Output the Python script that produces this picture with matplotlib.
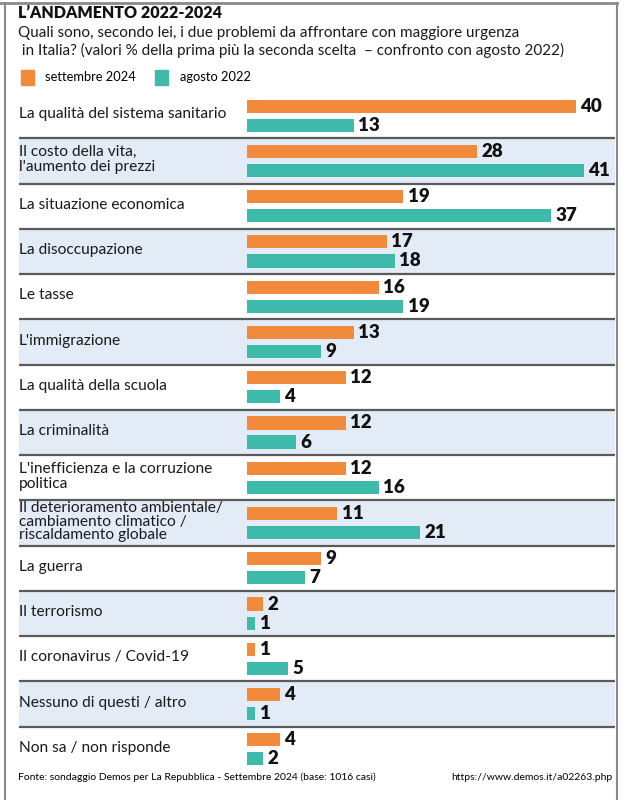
import numpy as np
import matplotlib.pyplot as plt
from matplotlib import font_manager
from matplotlib.lines import Line2D
from matplotlib.patches import Rectangle

# data
categorie = [
    "La qualità del sistema sanitario",
    "Il costo della vita,\nl'aumento dei prezzi",
    "La situazione economica",
    "La disoccupazione",
    "Le tasse",
    "L'immigrazione",
    "La qualità della scuola",
    "La criminalità",
    "L'inefficienza e la corruzione\npolitica",
    "Il deterioramento ambientale/\ncambiamento climatico /\nriscaldamento globale",
    "La guerra",
    "Il terrorismo",
    "Il coronavirus / Covid-19",
    "Nessuno di questi / altro",
    "Non sa / non risponde",
]
sett_2024 = [40, 28, 19, 17, 16, 13, 12, 12, 12, 11, 9, 2, 1, 4, 4]
ago_2022 = [13, 41, 37, 18, 19, 9, 4, 6, 16, 21, 7, 1, 5, 1, 2]

ORANGE = "#f18b3b"
TEAL = "#3dbaaa"
BAND = "#e3ecf6"
LINE = "#5a5a5a"

names = {f.name for f in font_manager.fontManager.ttflist}
BODY = "Lato" if "Lato" in names else "DejaVu Sans"
plt.rcParams["font.family"] = [BODY, "DejaVu Sans"]

W, H = 627, 800
fig = plt.figure(figsize=(W / 100, H / 100), dpi=100)

# plot area in pixels
x_left, x_right = 19, 615
y_top, y_bot = 93, 772
bar0 = 247
px_per = 8.22

ax = fig.add_axes([x_left / W, 1 - y_bot / H, (x_right - x_left) / W, (y_bot - y_top) / H])
xmin = -(bar0 - x_left) / px_per
xmax = (x_right - bar0) / px_per
n = len(categorie)
ax.set_xlim(xmin, xmax)
ax.set_ylim(n - 0.5, -0.5)
ax.axis("off")

y = np.arange(n)
for i in y:
    if i % 2 == 1:
        ax.axhspan(i - 0.5, i + 0.5, color=BAND, zorder=0, lw=0)
    if i > 0:
        ax.axhline(i - 0.5, color=LINE, lw=1.6, zorder=1)

h = 0.29
ax.barh(y - 0.21, sett_2024, height=h, color=ORANGE, zorder=2)
ax.barh(y + 0.21, ago_2022, height=h, color=TEAL, zorder=2)

for i in y:
    ax.text(sett_2024[i] + 0.55, i - 0.21, str(sett_2024[i]), va="center", ha="left",
            fontsize=13.5, fontweight="heavy", color="#111111")
    ax.text(ago_2022[i] + 0.55, i + 0.21, str(ago_2022[i]), va="center", ha="left",
            fontsize=13.5, fontweight="heavy", color="#111111")
    nlines = categorie[i].count("\n") + 1
    ax.text(xmin, i - 0.03, categorie[i], va="center", ha="left", fontsize=11.2,
            color="#1a1a1a", linespacing=0.95 if nlines > 2 else 1.1)

# titles
fig.text(18 / W, 1 - 13 / H, "L\u2019ANDAMENTO 2022-2024", fontsize=11.5, fontweight="heavy",
         va="center", ha="left", color="#111111")
fig.text(18 / W, 1 - 33 / H,
         "Quali sono, secondo lei, i due problemi da affrontare con maggiore urgenza",
         fontsize=11, va="center", ha="left", color="#1a1a1a")
fig.text(18 / W, 1 - 50 / H,
         " in Italia? (valori % della prima più la seconda scelta  \u2013 confronto con agosto 2022)",
         fontsize=11, va="center", ha="left", color="#1a1a1a")

# legend
fig.add_artist(Rectangle((21 / W, 1 - 85 / H), 13 / W, 15 / H, color=ORANGE, transform=fig.transFigure))
fig.text(45 / W, 1 - 77 / H, "settembre 2024", fontsize=9.3, va="center", ha="left")
fig.add_artist(Rectangle((155 / W, 1 - 85 / H), 13 / W, 15 / H, color=TEAL, transform=fig.transFigure))
fig.text(180 / W, 1 - 77 / H, "agosto 2022", fontsize=9.3, va="center", ha="left")

# footer
fig.text(18 / W, 1 - 777 / H,
         "Fonte: sondaggio Demos per La Repubblica - Settembre 2024 (base: 1016 casi)",
         fontsize=7.5, va="center", ha="left")
fig.text(612 / W, 1 - 777 / H, "https://www.demos.it/a02263.php",
         fontsize=7.5, va="center", ha="right")

# frame
fig.add_artist(Line2D([0, 617 / W], [1 - 3 / H] * 2, color="#8a8a8a", lw=2, transform=fig.transFigure))
fig.add_artist(Line2D([5 / W] * 2, [0, 1 - 3 / H], color="#8a8a8a", lw=1.5, transform=fig.transFigure))
fig.add_artist(Line2D([617 / W] * 2, [0, 1 - 3 / H], color="#8a8a8a", lw=1.5, transform=fig.transFigure))

fig.savefig("out.png", dpi=100)
